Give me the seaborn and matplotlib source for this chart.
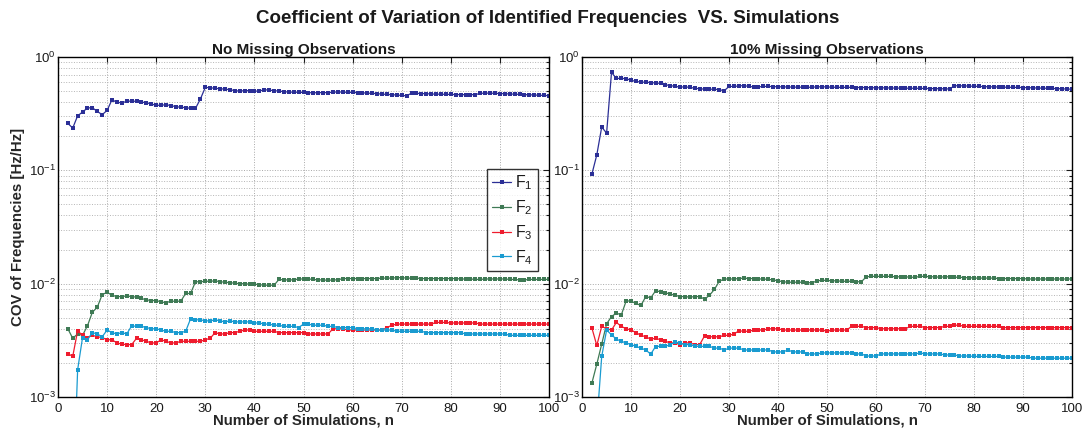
import numpy as np
import pandas as pd
import seaborn as sns
import matplotlib
matplotlib.use("Agg")
import matplotlib.pyplot as plt
from matplotlib.ticker import LogLocator, MultipleLocator, NullFormatter

# number of simulations
n = list(range(2, 101))

# No missing observations
nm_f1 = [0.26, 0.236, 0.303, 0.327, 0.355, 0.357, 0.331, 0.31, 0.338, 0.42,
         0.398, 0.395, 0.405, 0.41, 0.405, 0.40, 0.395, 0.385, 0.375, 0.375,
         0.38, 0.372, 0.365, 0.36, 0.358, 0.352, 0.352, 0.426, 0.54, 0.535,
         0.53, 0.525, 0.52, 0.515, 0.505, 0.50, 0.505, 0.505, 0.50, 0.50,
         0.515, 0.51, 0.505, 0.50, 0.495, 0.49, 0.49, 0.488, 0.487, 0.485,
         0.483, 0.485, 0.485, 0.485, 0.49, 0.492, 0.49, 0.488, 0.487, 0.485,
         0.483, 0.48, 0.478, 0.475, 0.47, 0.468, 0.465, 0.462, 0.458, 0.455,
         0.48, 0.478, 0.476, 0.474, 0.472, 0.47, 0.47, 0.468, 0.468, 0.466,
         0.466, 0.465, 0.465, 0.466, 0.478, 0.48, 0.48, 0.478, 0.476, 0.474,
         0.472, 0.47, 0.468, 0.466, 0.464, 0.462, 0.46, 0.458, 0.456]
nm_f2 = [0.0040, 0.0033, 0.0036, 0.0035, 0.00425, 0.0056, 0.0062, 0.0080, 0.0084, 0.0079,
         0.0077, 0.0077, 0.0078, 0.0077, 0.0076, 0.0074, 0.0072, 0.0071, 0.0071, 0.0069,
         0.0068, 0.0070, 0.0070, 0.0070, 0.0082, 0.0082, 0.0104, 0.0104, 0.0105, 0.0105,
         0.0106, 0.0104, 0.0103, 0.0102, 0.0101, 0.0100, 0.0100, 0.0099, 0.0099, 0.0098,
         0.0097, 0.0097, 0.0097, 0.0109, 0.0108, 0.0108, 0.0108, 0.0110, 0.0110, 0.0110,
         0.0109, 0.0108, 0.0108, 0.0107, 0.0108, 0.0108, 0.0111, 0.0111, 0.0111, 0.0111,
         0.0111, 0.0111, 0.0111, 0.0111, 0.0112, 0.0112, 0.0112, 0.0113, 0.0113, 0.0112,
         0.0112, 0.0112, 0.0111, 0.0111, 0.0111, 0.0111, 0.0111, 0.0111, 0.0111, 0.0111,
         0.0110, 0.0110, 0.0110, 0.0109, 0.0109, 0.0110, 0.0110, 0.0110, 0.0110, 0.0110,
         0.0109, 0.0109, 0.0108, 0.0108, 0.0109, 0.0109, 0.0109, 0.0109, 0.0109]
nm_f3 = [0.00242, 0.00228, 0.00384, 0.0035, 0.00335, 0.0035, 0.0034, 0.00335, 0.0032, 0.0032,
         0.0030, 0.00293, 0.0029, 0.0029, 0.0033, 0.0032, 0.0031, 0.0030, 0.0030, 0.0032,
         0.0031, 0.0030, 0.0030, 0.0031, 0.0031, 0.0031, 0.0031, 0.0031, 0.0032, 0.0033,
         0.0037, 0.0036, 0.0036, 0.0037, 0.0037, 0.0038, 0.0039, 0.0039, 0.0038, 0.0038,
         0.0038, 0.0038, 0.0038, 0.0037, 0.0037, 0.0037, 0.0037, 0.0037, 0.0037, 0.0036,
         0.0036, 0.0036, 0.0036, 0.0036, 0.0040, 0.0040, 0.0040, 0.0039, 0.0039, 0.0039,
         0.0039, 0.0039, 0.0039, 0.0039, 0.0039, 0.0041, 0.0043, 0.0044, 0.0044, 0.0044,
         0.0044, 0.0044, 0.0044, 0.0044, 0.0044, 0.00455, 0.00455, 0.00455, 0.0045, 0.0045,
         0.0045, 0.0045, 0.0045, 0.0045, 0.0044, 0.0044, 0.0044, 0.0044, 0.0044, 0.0044,
         0.0044, 0.0044, 0.0044, 0.0044, 0.0044, 0.0044, 0.0044, 0.0044, 0.0044]
nm_f4 = [0.0001, 0.00011, 0.00174, 0.00335, 0.0032, 0.0037, 0.0036, 0.0034, 0.0039, 0.0037,
         0.0036, 0.0037, 0.0036, 0.00425, 0.0042, 0.0042, 0.0041, 0.0040, 0.0040, 0.0039,
         0.0038, 0.0038, 0.0037, 0.0037, 0.0038, 0.0049, 0.0048, 0.0048, 0.0047, 0.0047,
         0.0048, 0.0047, 0.0046, 0.0047, 0.0046, 0.0046, 0.0046, 0.0046, 0.0045, 0.0045,
         0.0044, 0.0044, 0.0043, 0.0043, 0.0042, 0.0042, 0.0042, 0.0041, 0.0044, 0.0044,
         0.0043, 0.0043, 0.0043, 0.0042, 0.0042, 0.0041, 0.0041, 0.0041, 0.0041, 0.0040,
         0.0040, 0.0040, 0.0040, 0.0039, 0.0039, 0.0039, 0.0039, 0.0038, 0.0038, 0.0038,
         0.0038, 0.0038, 0.0038, 0.0037, 0.0037, 0.0037, 0.0037, 0.0037, 0.0037, 0.0037,
         0.0037, 0.0036, 0.0036, 0.0036, 0.0036, 0.0036, 0.0036, 0.0036, 0.0036, 0.0036,
         0.0035, 0.0035, 0.0035, 0.0035, 0.0035, 0.0035, 0.0035, 0.0035, 0.0035]

# 10% missing observations
m_f1 = [0.0927, 0.137, 0.241, 0.213, 0.731, 0.647, 0.647, 0.645, 0.622, 0.61,
        0.60, 0.60, 0.595, 0.59, 0.585, 0.569, 0.56, 0.55, 0.543, 0.545,
        0.54, 0.53, 0.525, 0.52, 0.52, 0.52, 0.515, 0.504, 0.55, 0.55,
        0.555, 0.56, 0.55, 0.545, 0.545, 0.55, 0.55, 0.548, 0.546, 0.545,
        0.544, 0.543, 0.542, 0.542, 0.54, 0.542, 0.545, 0.546, 0.544, 0.542,
        0.54, 0.54, 0.54, 0.54, 0.538, 0.538, 0.537, 0.536, 0.535, 0.535,
        0.534, 0.533, 0.532, 0.532, 0.531, 0.53, 0.53, 0.529, 0.528, 0.527,
        0.526, 0.525, 0.524, 0.522, 0.558, 0.557, 0.556, 0.554, 0.552, 0.55,
        0.548, 0.546, 0.545, 0.544, 0.542, 0.541, 0.54, 0.539, 0.538, 0.536,
        0.534, 0.533, 0.531, 0.53, 0.528, 0.526, 0.524, 0.522, 0.52]
m_f2 = [0.00133, 0.00195, 0.00293, 0.00442, 0.00513, 0.0055, 0.0053, 0.00706, 0.0070, 0.0067,
        0.00642, 0.0077, 0.0075, 0.00865, 0.0085, 0.0083, 0.0081, 0.0079, 0.0077, 0.0077,
        0.0076, 0.0077, 0.0077, 0.0073, 0.0079, 0.0089, 0.0105, 0.0110, 0.0110, 0.0110,
        0.0111, 0.0112, 0.0111, 0.0111, 0.0110, 0.0110, 0.0109, 0.0108, 0.0106, 0.0104,
        0.0103, 0.0103, 0.0103, 0.0103, 0.0102, 0.0102, 0.0106, 0.0107, 0.0107, 0.0106,
        0.0106, 0.0105, 0.0105, 0.0105, 0.0104, 0.0104, 0.0115, 0.0116, 0.0116, 0.0116,
        0.0116, 0.0116, 0.0115, 0.0115, 0.0115, 0.0114, 0.0114, 0.0116, 0.0116, 0.0115,
        0.0115, 0.0114, 0.0115, 0.0115, 0.0114, 0.0114, 0.0113, 0.0113, 0.0112, 0.0112,
        0.0112, 0.0112, 0.0112, 0.0111, 0.0111, 0.0111, 0.0111, 0.0111, 0.0111, 0.0110,
        0.0110, 0.0110, 0.0110, 0.0110, 0.0110, 0.0110, 0.0110, 0.0110, 0.0110]
m_f3 = [0.00406, 0.00285, 0.0042, 0.0040, 0.0039, 0.00455, 0.0042, 0.0040, 0.0039, 0.0037,
        0.0035, 0.0034, 0.00324, 0.0033, 0.0032, 0.0031, 0.0030, 0.0030, 0.0029, 0.0030,
        0.0030, 0.0029, 0.0029, 0.00347, 0.0034, 0.0034, 0.0034, 0.0035, 0.0035, 0.0036,
        0.00384, 0.0038, 0.0038, 0.0039, 0.0039, 0.0039, 0.0040, 0.0040, 0.0040, 0.0039,
        0.0039, 0.0039, 0.0039, 0.0039, 0.0039, 0.0039, 0.0039, 0.0039, 0.0038, 0.0039,
        0.0039, 0.0039, 0.0039, 0.0042, 0.0042, 0.0042, 0.0041, 0.0041, 0.0041, 0.0040,
        0.0040, 0.0040, 0.0040, 0.0040, 0.0040, 0.0042, 0.0042, 0.0042, 0.0041, 0.0041,
        0.0041, 0.0041, 0.0042, 0.0042, 0.0043, 0.0043, 0.0042, 0.0042, 0.0042, 0.0042,
        0.0042, 0.0042, 0.0042, 0.0042, 0.0041, 0.0041, 0.0041, 0.0041, 0.0041, 0.0041,
        0.0041, 0.0041, 0.0041, 0.0041, 0.0041, 0.0041, 0.0041, 0.0041, 0.0041]
m_f4 = [0.0003, 0.00058, 0.00228, 0.0039, 0.00354, 0.00324, 0.0031, 0.0030, 0.0029, 0.0028,
        0.0027, 0.0026, 0.00239, 0.00279, 0.0028, 0.0028, 0.0029, 0.00305, 0.0030, 0.0029,
        0.0029, 0.0028, 0.0028, 0.0028, 0.0028, 0.0027, 0.0027, 0.0026, 0.0027, 0.0027,
        0.0027, 0.0026, 0.0026, 0.0026, 0.0026, 0.0026, 0.0026, 0.0025, 0.0025, 0.0025,
        0.0026, 0.0025, 0.0025, 0.0025, 0.0024, 0.0024, 0.0024, 0.00245, 0.00245, 0.00245,
        0.00245, 0.00245, 0.00245, 0.00245, 0.0024, 0.0024, 0.0023, 0.0023, 0.0023, 0.0024,
        0.0024, 0.0024, 0.0024, 0.0024, 0.0024, 0.0024, 0.0024, 0.00245, 0.0024, 0.0024,
        0.0024, 0.0024, 0.00235, 0.00235, 0.00235, 0.0023, 0.0023, 0.0023, 0.00228, 0.00228,
        0.00228, 0.00228, 0.00228, 0.00228, 0.00225, 0.00225, 0.00225, 0.00225, 0.00225, 0.00225,
        0.0022, 0.0022, 0.0022, 0.0022, 0.0022, 0.0022, 0.0022, 0.0022, 0.0022]

labels = ["F$_1$", "F$_2$", "F$_3$", "F$_4$"]
colors = ["#2b2f96", "#3f7a55", "#ee1c2e", "#1a9bd0"]
panel_titles = ["No Missing Observations", "10% Missing Observations"]


def long_table(series):
    rows = []
    for lab, vals in zip(labels, series):
        for k, v in zip(n, vals):
            rows.append({"n": k, "cov": v, "freq": lab})
    return pd.DataFrame(rows)


sns.set_style("white")
plt.rcParams["font.family"] = ["Liberation Sans", "DejaVu Sans"]
plt.rcParams["mathtext.fontset"] = "custom"
plt.rcParams["mathtext.rm"] = "Liberation Sans"
plt.rcParams["mathtext.default"] = "regular"
plt.rcParams["text.color"] = "#1a1a1a"

fig = plt.figure(figsize=(10.84, 4.28), dpi=100)
ax1 = fig.add_axes([0.0535, 0.0724, 0.4530, 0.7944])
ax2 = fig.add_axes([0.5370, 0.0724, 0.4520, 0.7944])

datasets = [[nm_f1, nm_f2, nm_f3, nm_f4], [m_f1, m_f2, m_f3, m_f4]]

for i, (ax, data) in enumerate(zip([ax1, ax2], datasets)):
    df = long_table(data)
    sns.lineplot(data=df, x="n", y="cov", hue="freq", palette=colors,
                 marker="s", markersize=2.2, markeredgewidth=0, linewidth=0.9,
                 ax=ax, legend=(i == 0))
    ax.set_yscale("log")
    ax.set_xlim(0, 100)
    ax.set_ylim(1e-3, 1)
    ax.xaxis.set_major_locator(MultipleLocator(10))
    ax.yaxis.set_major_locator(LogLocator(base=10))
    ax.yaxis.set_minor_locator(LogLocator(base=10, subs=np.arange(2, 10)))
    ax.yaxis.set_minor_formatter(NullFormatter())
    ax.grid(True, which="major", axis="both", linestyle=":", color="#a8a8a8", linewidth=0.7)
    ax.grid(True, which="minor", axis="y", linestyle=":", color="#b5b5b5", linewidth=0.7)
    ax.tick_params(direction="in", which="both", top=True, right=True,
                   labelsize=9.5, length=4, width=0.8, colors="#1a1a1a")
    ax.tick_params(axis="x", pad=4)
    ax.tick_params(axis="y", pad=1.5)
    ax.tick_params(which="minor", length=2.5)
    for sp in ax.spines.values():
        sp.set_color("black")
        sp.set_linewidth(1.0)
    ax.set_title(panel_titles[i], fontsize=11, fontweight="bold", pad=2)
    ax.set_xlabel("Number of Simulations, n", fontsize=10.8, fontweight="bold", labelpad=-0.8)
    ax.set_ylabel("")

ax1.set_ylabel("COV of Frequencies [Hz/Hz]", fontsize=10.8, fontweight="bold", labelpad=3)

leg = ax1.legend(loc="upper left", bbox_to_anchor=(0.874, 0.671), fontsize=11.5,
                 frameon=True, fancybox=False, handlelength=1.2, handletextpad=0.25,
                 borderpad=0.3, labelspacing=0.38, borderaxespad=0)
leg.get_frame().set_edgecolor("black")
leg.get_frame().set_linewidth(1.0)

fig.suptitle("Coefficient of Variation of Identified Frequencies  VS. Simulations",
             fontsize=13.5, fontweight="bold", x=0.505, y=0.977)

fig.savefig("out.png", dpi=100)
